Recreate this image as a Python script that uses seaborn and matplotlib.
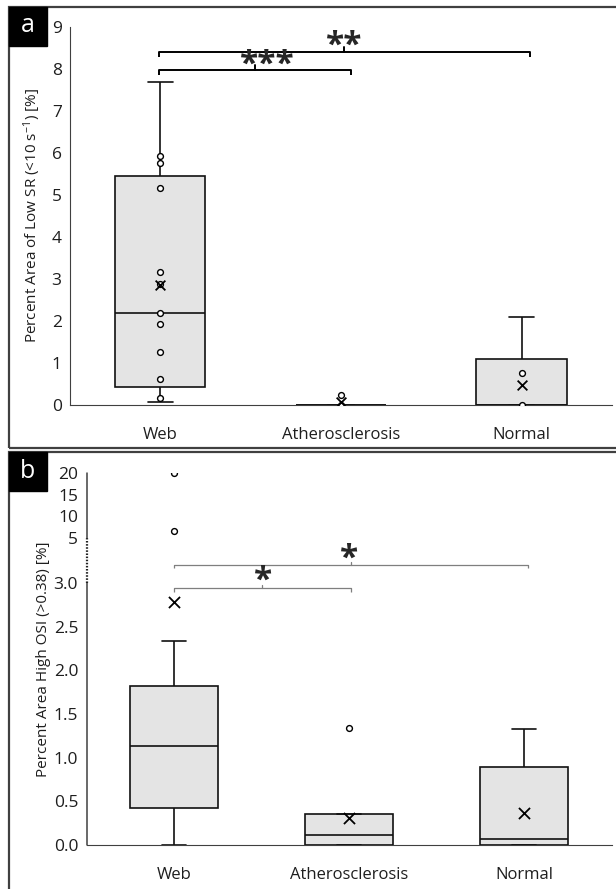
import numpy as np
import pandas as pd
import matplotlib.pyplot as plt
import seaborn as sns
from matplotlib.patches import Rectangle

sns.set_style('white')
plt.rcParams['font.family'] = ['Open Sans', 'DejaVu Sans']
plt.rcParams['mathtext.fontset'] = 'custom'
plt.rcParams['mathtext.rm'] = 'Open Sans'
plt.rcParams['mathtext.it'] = 'Open Sans:italic'

groups = ['Web', 'Atherosclerosis', 'Normal']

# (a) low shear rate area: five-number summary per group
sr_min = [0.07, 0.0, 0.0]
sr_q1 = [0.43, 0.0, 0.0]
sr_med = [2.19, 0.0, 0.0]
sr_q3 = [5.45, 0.0, 1.09]
sr_max = [7.69, 0.0, 2.10]
sr_mean = [2.86, 0.06, 0.47]
sr_web_pts = [0.17, 0.63, 1.27, 1.92, 2.19, 2.88, 3.17, 5.16, 5.76, 5.93]
sr_ath_pts = [0.0, 0.24]
sr_nor_pts = [0.0, 0.76]

# (b) high OSI area
osi_min = [0.0, 0.0, 0.0]
osi_q1 = [0.42, 0.0, 0.0]
osi_med = [1.13, 0.115, 0.07]
osi_q3 = [1.82, 0.355, 0.89]
osi_max = [2.34, 0.355, 1.33]
osi_mean = [2.78, 0.31, 0.37]
osi_web_out = [6.6, 20.0]
osi_ath_out = [1.34]
osi_nor_out = []

sr_ticks = [0, 1, 2, 3, 4, 5, 6, 7, 8, 9]
osi_ticks = [0.0, 0.5, 1.0, 1.5, 2.0, 2.5, 3.0, 5, 10, 15, 20]
osi_ticklabels = ['0.0', '0.5', '1.0', '1.5', '2.0', '2.5', '3.0', '5', '10', '15', '20']

BOX_FILL = '#e4e4e4'
FRAME = '#404040'
TXT = '#1e1e1e'

# broken axis for panel b: 0-3 linear, 3-5 squeezed, 5-20 compressed
GAP = 22.5 / 87.33
TOP = 4.333 / 87.33
F5 = 3 + 2 * GAP


def osi_fwd(y):
    y = np.asarray(y, dtype=float)
    return np.where(y <= 3, y, np.where(y <= 5, 3 + (y - 3) * GAP, F5 + (y - 5) * TOP))


def osi_inv(v):
    v = np.asarray(v, dtype=float)
    return np.where(v <= 3, v, np.where(v <= F5, 3 + (v - 3) / GAP, 5 + (v - F5) / TOP))


def five_num_frame(mins, q1s, meds, q3s, maxs):
    rows = []
    for g, *vals in zip(groups, mins, q1s, meds, q3s, maxs):
        for v in vals:
            rows.append((g, v))
    return pd.DataFrame(rows, columns=['group', 'value'])


def points_frame(*lists):
    rows = [(g, v) for g, vals in zip(groups, lists) for v in vals]
    return pd.DataFrame(rows, columns=['group', 'value'])


def draw_panel(ax, box_df, pts_df, means, mean_size):
    sns.boxplot(data=box_df, x='group', y='value', order=groups, ax=ax,
                whis=(0, 100), width=0.5, color=BOX_FILL, saturation=1,
                linecolor='#111111', linewidth=1.2, showfliers=False,
                capwidths=0.14)
    if len(pts_df):
        sns.stripplot(data=pts_df, x='group', y='value', order=groups, ax=ax,
                      jitter=False, size=4.2, color='white', edgecolor='black',
                      linewidth=1.0, zorder=3)
    mean_df = pd.DataFrame({'group': groups, 'value': means})
    sns.stripplot(data=mean_df, x='group', y='value', order=groups, ax=ax,
                  jitter=False, marker='x', size=mean_size, color='black',
                  linewidth=1.3, zorder=4)
    ax.set_xlim(-0.5, 2.5)
    ax.set_xlabel('')
    ax.tick_params(axis='both', length=0, colors=TXT)
    ax.tick_params(axis='x', labelsize=12, pad=16)
    ax.tick_params(axis='y', labelsize=12.5, pad=6)
    for side in ['top', 'right']:
        ax.spines[side].set_visible(False)
    ax.spines['bottom'].set_color(FRAME)
    ax.spines['left'].set_color(FRAME)


def bracket(ax, x0, x1, y, hook, color, lw):
    xm = (x0 + x1) / 2
    ax.plot([x0, x0, x1, x1], [y - hook, y, y, y - hook], color=color, lw=lw,
            clip_on=False, solid_capstyle='butt')
    ax.plot([xm, xm], [y, y + hook], color=color, lw=lw, clip_on=False)


fig = plt.figure(figsize=(6.16, 8.89), dpi=100)
W, H = 616, 889

# ---------- panel a ----------
ax_a = fig.add_axes([70 / W, 1 - 405 / H, 542 / W, 378 / H])
draw_panel(ax_a, five_num_frame(sr_min, sr_q1, sr_med, sr_q3, sr_max),
           points_frame(sr_web_pts, sr_ath_pts, sr_nor_pts), sr_mean, 7)
ax_a.set_ylim(0, 9)
ax_a.set_yticks(sr_ticks)
ax_a.set_ylabel('Percent Area of Low SR (<10 s$^{-1}$) [%]', fontsize=11,
                color=TXT, labelpad=6)

bracket(ax_a, -0.01, 1.055, 7.98, 0.12, 'black', 1.4)
bracket(ax_a, -0.01, 2.045, 8.40, 0.12, 'black', 1.4)
ax_a.text(0.59, 8.1, '***', ha='center', va='center', fontsize=24,
          fontweight='bold')
ax_a.text(1.02, 8.54, '**', ha='center', va='center', fontsize=24,
          fontweight='bold')

# ---------- panel b ----------
ax_b = fig.add_axes([86.5 / W, 1 - 845 / H, 525 / W, 372 / H])
ax_b.set_yscale('function', functions=(osi_fwd, osi_inv))
draw_panel(ax_b, five_num_frame(osi_min, osi_q1, osi_med, osi_q3, osi_max),
           points_frame(osi_web_out, osi_ath_out, osi_nor_out), osi_mean, 8)
ax_b.set_ylim(0, 20)
ax_b.set_yticks(osi_ticks)
ax_b.set_yticklabels(osi_ticklabels)
ax_b.minorticks_off()
ax_b.set_ylabel('Percent Area High OSI (>0.38) [%]', fontsize=11,
                color=TXT, labelpad=2)
ax_b.spines['left'].set_visible(False)
ytr = ax_b.get_yaxis_transform()
ax_b.plot([0, 0], [0, 3.0], color=FRAME, lw=1.1, transform=ytr, clip_on=False)
ax_b.plot([0, 0], [3.0, 5], color='#222222', lw=1.6, ls=(0, (0.7, 0.7)),
          transform=ytr, clip_on=False)
ax_b.plot([0, 0], [5, 20], color=FRAME, lw=1.1, transform=ytr, clip_on=False)

bracket(ax_b, 0.0, 1.01, 2.94, 0.04, '#7f7f7f', 0.9)
bracket(ax_b, 0.0, 2.02, 3.80, 0.15, '#7f7f7f', 0.9)
ax_b.text(0.51, 3.07, '*', ha='center', va='center', fontsize=24,
          fontweight='bold')
ax_b.text(1.0, 4.05, '*', ha='center', va='center', fontsize=24,
          fontweight='bold')

# ---------- panel frames and letters ----------
fig.add_artist(Rectangle((9 / W, 1 - 448 / H), 700 / W, 441 / H,
                         transform=fig.transFigure, fill=False,
                         edgecolor=FRAME, lw=1.6))
fig.add_artist(Rectangle((9 / W, 1 - 900 / H), 700 / W, 448 / H,
                         transform=fig.transFigure, fill=False,
                         edgecolor=FRAME, lw=1.6))
for letter, top in [('a', 7), ('b', 452)]:
    fig.add_artist(Rectangle((9 / W, 1 - (top + 39) / H), 38 / W, 39 / H,
                             transform=fig.transFigure, facecolor='black',
                             edgecolor='black'))
    fig.text(28 / W, 1 - (top + 19) / H, letter, color='white', fontsize=18,
             ha='center', va='center')

plt.savefig('out.png', dpi=100)
plt.close()
